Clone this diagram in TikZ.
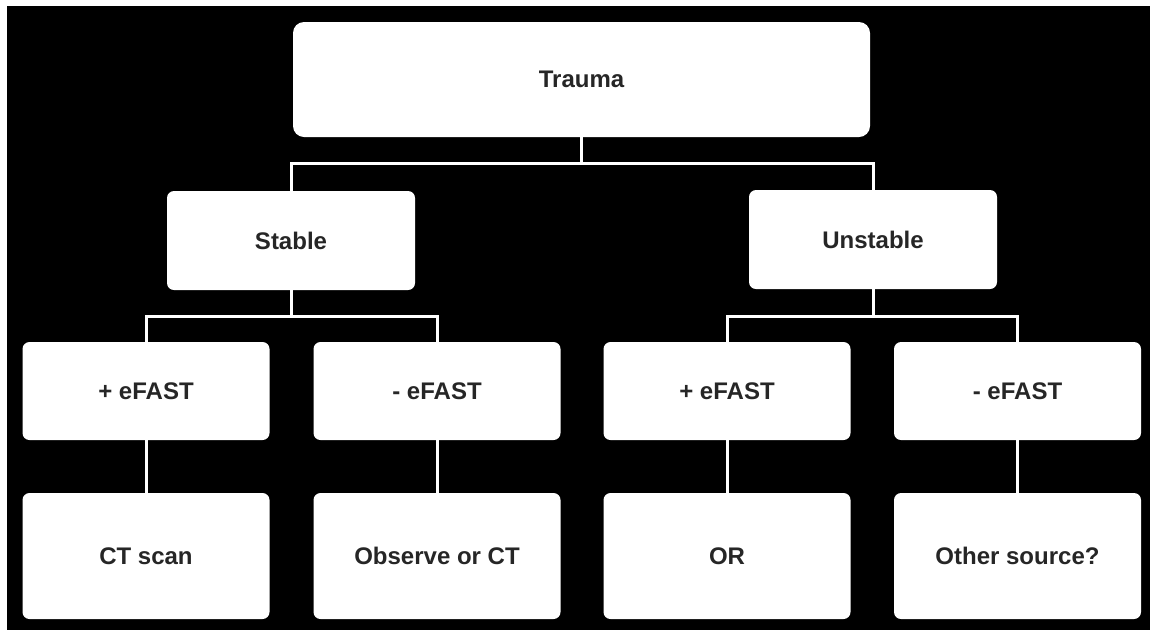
\documentclass[tikz,border=0pt]{standalone}
\usepackage{fontspec}
\setmainfont{Liberation Sans}
\usepackage{tikz}
\usetikzlibrary{positioning}
\tikzset{
  box/.style={fill=white, rounded corners=7pt, inner sep=0pt, align=center,
    font=\fontsize{24}{28}\selectfont\bfseries, text=black!85},
  link/.style={draw=white, line width=3pt}
}

\begin{document}
\begin{tikzpicture}[x=1pt, y=-1pt]

  % page: white strips top and left, black elsewhere
  \fill[white] (0,0) rectangle (1150,630);
  \fill[black] (7,6) rectangle (1150,630);
  \useasboundingbox (0,0) rectangle (1150,630);

  \newcommand\W{247pt}

  % level 0
  \node[box, rounded corners=11pt, minimum width=577pt, minimum height=115pt] (trauma) at (581.5,79.5) {Trauma};

  % level 1
  \node[box, minimum width=248pt, minimum height=99pt] (stable) at (291,240.5) {Stable};
  \node[box, minimum width=248pt, minimum height=99pt] (unstable) at (873,239.5) {Unstable};

  % level 2
  \node[box, minimum width=\W, minimum height=98pt] (spos) at (146,391) {+ eFAST};
  \node[box, minimum width=\W, minimum height=98pt] (sneg) at (437,391) {- eFAST};
  \node[box, minimum width=\W, minimum height=98pt] (upos) at (727,391) {+ eFAST};
  \node[box, minimum width=\W, minimum height=98pt] (uneg) at (1017.5,391) {- eFAST};

  % level 3
  \node[box, minimum width=\W, minimum height=126pt] (ct) at (146,556) {CT scan};
  \node[box, minimum width=\W, minimum height=126pt] (observe) at (437,556) {Observe or CT};
  \node[box, minimum width=\W, minimum height=126pt] (or) at (727,556) {OR};
  \node[box, minimum width=\W, minimum height=126pt] (other) at (1017.5,556) {Other source?};

  % buses
  \coordinate (bus0) at (581.5,163);
  \coordinate (bus1) at (291,316);
  \coordinate (bus2) at (873,316);

  \draw[link] (trauma.south) -- (bus0);
  \draw[link] (bus0) -| (stable.north);
  \draw[link] (bus0) -| (unstable.north);

  \draw[link] (stable.south) -- (bus1);
  \draw[link] (bus1) -| (spos.north);
  \draw[link] (bus1) -| (sneg.north);

  \draw[link] (unstable.south) -- (bus2);
  \draw[link] (bus2) -| (upos.north);
  \draw[link] (bus2) -| (uneg.north);

  \draw[link] (spos) -- (ct);
  \draw[link] (sneg) -- (observe);
  \draw[link] (upos) -- (or);
  \draw[link] (uneg) -- (other);

\end{tikzpicture}
\end{document}
